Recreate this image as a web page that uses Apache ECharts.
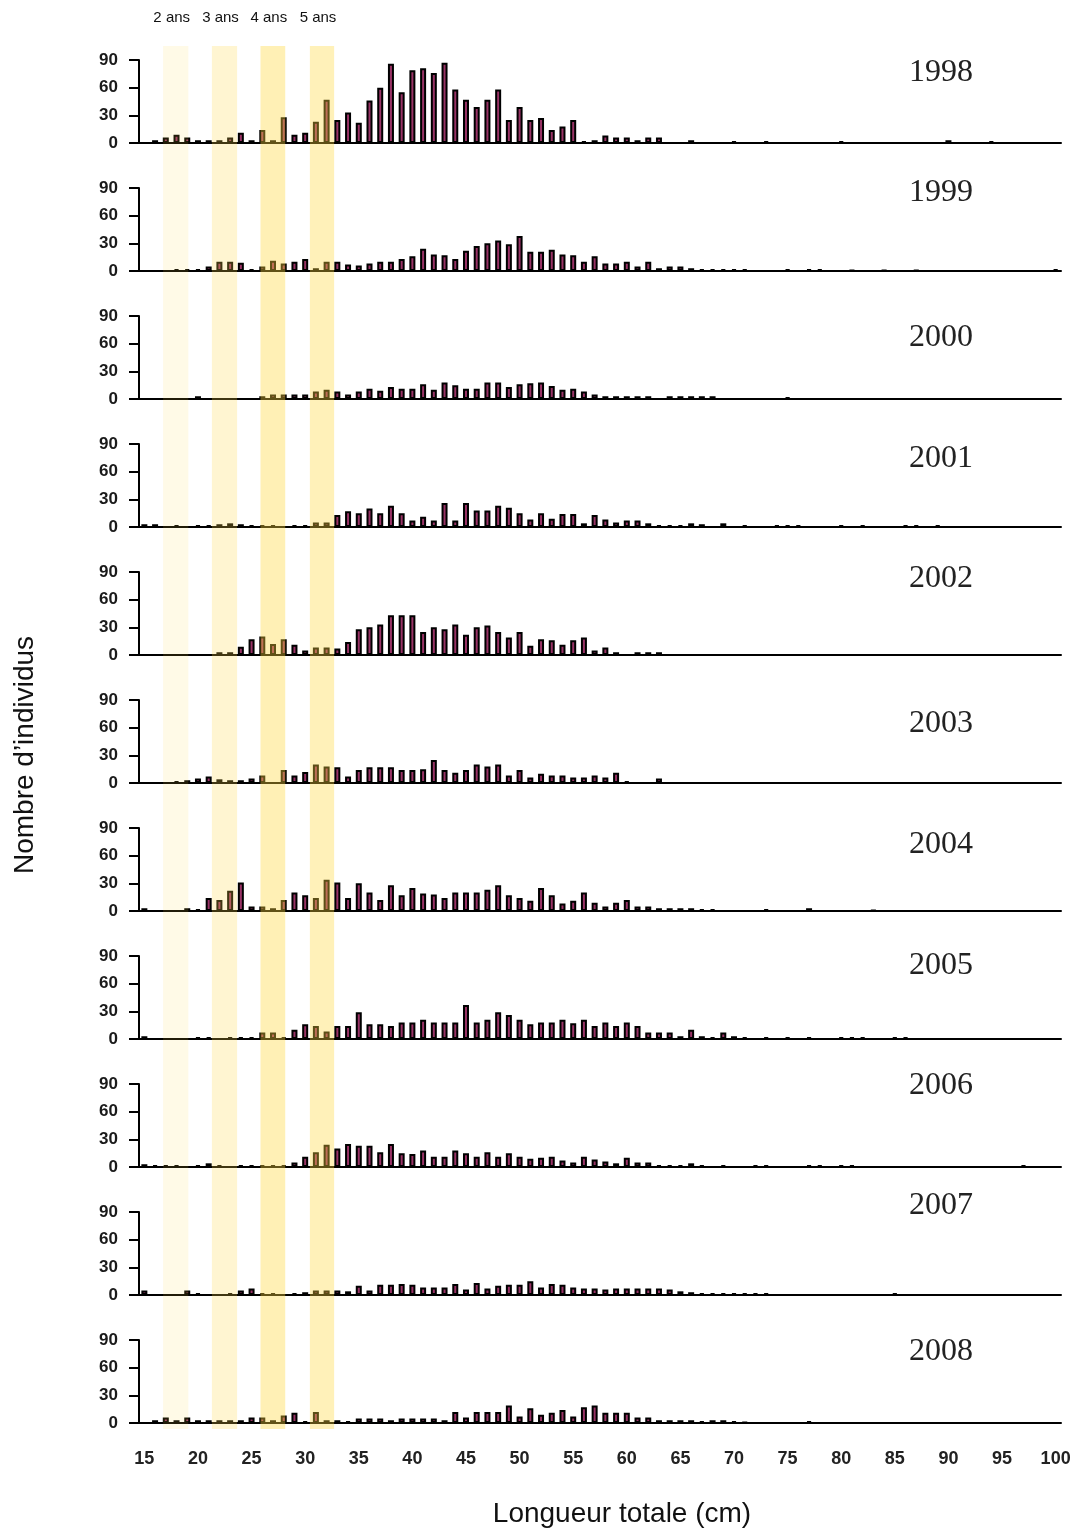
<!DOCTYPE html>
<html>
<head>
<meta charset="utf-8">
<script src="https://cdn.jsdelivr.net/npm/echarts@6/dist/echarts.min.js"></script>
<style>
html, body { margin: 0; padding: 0; background: #fff; }
#chart { width: 1089px; height: 1531px; }
</style>
</head>
<body>
<div id="chart"></div>
<script>
// classes de longueur 15..100 cm
const lengths = [];
for (let l = 15; l <= 100; l++) lengths.push(l);

const years = ['1998', '1999', '2000', '2001', '2002', '2003', '2004', '2005', '2006', '2007', '2008'];
const xTicks = [15, 20, 25, 30, 35, 40, 45, 50, 55, 60, 65, 70, 75, 80, 85, 90, 95, 100];

// bandes d'age (cm)
const ageLabels = ['2 ans', '3 ans', '4 ans', '5 ans'];
const ageFrom = [16.75, 21.3, 25.83, 30.44];
const ageTo = [19.1, 23.65, 28.14, 32.7];

// effectifs 15..66 cm
const n1998 = [0, 3, 6, 9, 6, 3, 3, 3, 6, 11,
  3, 14, 3, 28, 9, 11, 23, 47, 25, 33,
  22, 46, 60, 86, 55, 79, 81, 76, 87, 58,
  47, 39, 47, 58, 25, 39, 25, 27, 14, 18,
  25, 2, 3, 8, 6, 6, 3, 6, 6, 0,
  0, 3];
const n1999 = [0, 0, 0, 2, 2, 2, 5, 10, 10, 9,
  2, 5, 11, 8, 10, 13, 3, 10, 10, 7,
  6, 8, 10, 10, 13, 16, 24, 18, 17, 13,
  22, 27, 30, 33, 29, 38, 21, 21, 23, 18,
  17, 10, 16, 8, 8, 10, 5, 10, 3, 5,
  5, 3];
const n2000 = [0, 0, 0, 0, 0, 3, 0, 0, 0, 0,
  0, 3, 5, 5, 5, 5, 8, 10, 8, 5,
  8, 11, 9, 13, 11, 11, 16, 10, 18, 15,
  11, 11, 18, 18, 13, 16, 17, 18, 14, 10,
  11, 8, 5, 3, 3, 3, 3, 3, 0, 3,
  3, 3];
const n2001 = [3, 3, 0, 2, 0, 2, 2, 3, 4, 3,
  2, 2, 2, 0, 2, 2, 5, 5, 13, 17,
  15, 20, 15, 23, 15, 7, 11, 7, 26, 7,
  26, 18, 18, 23, 21, 15, 8, 15, 9, 14,
  14, 4, 13, 8, 5, 7, 7, 4, 2, 2,
  2, 4];
const n2002 = [0, 0, 0, 0, 0, 0, 0, 3, 3, 9,
  17, 20, 12, 17, 11, 5, 8, 8, 7, 14,
  28, 30, 33, 43, 43, 43, 25, 30, 28, 33,
  22, 30, 32, 25, 19, 25, 10, 17, 16, 11,
  16, 19, 5, 8, 3, 0, 3, 3, 3, 0,
  0, 0];
const n2003 = [0, 0, 0, 2, 3, 5, 7, 4, 3, 3,
  5, 8, 0, 14, 8, 12, 20, 18, 17, 7,
  14, 17, 17, 17, 14, 14, 15, 25, 14, 11,
  14, 20, 18, 20, 8, 14, 6, 10, 8, 8,
  6, 6, 8, 6, 11, 2, 0, 0, 5, 0,
  0, 0];
const n2004 = [3, 0, 0, 0, 3, 2, 14, 12, 22, 31,
  5, 5, 3, 12, 20, 17, 14, 34, 31, 14,
  30, 20, 12, 28, 17, 25, 19, 18, 14, 20,
  20, 20, 23, 28, 17, 14, 11, 25, 17, 8,
  11, 20, 9, 5, 9, 12, 5, 5, 3, 3,
  3, 3];
const n2005 = [3, 0, 0, 0, 0, 2, 2, 0, 2, 2,
  2, 7, 7, 2, 10, 16, 14, 8, 14, 14,
  29, 16, 16, 14, 18, 18, 21, 18, 18, 18,
  37, 18, 21, 29, 26, 21, 16, 18, 18, 21,
  17, 21, 14, 18, 14, 18, 14, 7, 7, 7,
  3, 10];
const n2006 = [3, 2, 2, 2, 0, 2, 4, 2, 0, 2,
  2, 2, 2, 2, 5, 11, 16, 24, 20, 25,
  23, 23, 16, 25, 15, 14, 18, 11, 11, 18,
  15, 11, 16, 11, 15, 11, 9, 10, 11, 7,
  5, 11, 8, 6, 4, 10, 5, 5, 2, 2,
  2, 4];
const n2007 = [5, 0, 0, 0, 5, 2, 0, 0, 2, 5,
  7, 2, 2, 0, 2, 3, 5, 5, 5, 4,
  10, 5, 11, 11, 12, 11, 8, 8, 8, 12,
  6, 13, 7, 10, 11, 11, 15, 8, 12, 11,
  8, 7, 7, 6, 7, 7, 7, 7, 7, 6,
  4, 3];
const n2008 = [0, 3, 6, 3, 6, 3, 3, 3, 3, 3,
  6, 6, 3, 8, 11, 2, 12, 3, 3, 2,
  5, 5, 5, 3, 5, 5, 5, 5, 3, 12,
  6, 12, 12, 12, 19, 7, 16, 9, 11, 14,
  7, 17, 19, 11, 11, 11, 6, 6, 3, 3,
  3, 3];

// grandes tailles (> 66 cm) : [longueur, effectif]
const t1998 = [[70, 2], [73, 2], [80, 2], [90, 3], [94, 2]];
const t1999 = [[67, 2], [68, 2], [69, 2], [70, 2], [71, 2], [75, 2], [77, 2], [78, 2], [81, 1], [84, 1], [87, 1], [100, 2]];
const t2000 = [[67, 3], [68, 3], [75, 2]];
const t2001 = [[67, 3], [69, 4], [71, 2], [74, 2], [75, 2], [76, 2], [80, 2], [82, 2], [86, 2], [87, 2], [89, 2]];
const t2002 = [];
const t2003 = [];
const t2004 = [[67, 2], [68, 2], [73, 2], [77, 3], [83, 1]];
const t2005 = [[67, 3], [68, 2], [69, 7], [70, 3], [71, 2], [73, 2], [75, 2], [77, 2], [80, 2], [81, 2], [82, 2], [85, 2], [86, 2]];
const t2006 = [[67, 2], [69, 2], [72, 2], [73, 2], [77, 2], [78, 2], [80, 2], [81, 2], [97, 2]];
const t2007 = [[67, 2], [68, 2], [69, 2], [70, 2], [71, 2], [72, 2], [73, 2], [85, 2]];
const t2008 = [[67, 2], [68, 3], [69, 3], [70, 2], [71, 1], [77, 2]];

const mains = [n1998, n1999, n2000, n2001, n2002, n2003, n2004, n2005, n2006, n2007, n2008];
const tails = [t1998, t1999, t2000, t2001, t2002, t2003, t2004, t2005, t2006, t2007, t2008];

function countsFor(i) {
  const c = lengths.map((l, k) => (k < mains[i].length ? mains[i][k] : 0));
  tails[i].forEach(([l, v]) => { c[l - 15] = v; });
  return c;
}

// mise en page
const gLeft = 139, gWidth = 922, gTop0 = 60, gStep = 128, gHeight = 83;
const yearTop = [57, 177, 322, 443, 563, 708, 829, 950, 1070, 1190, 1336];

const chart = echarts.init(document.getElementById('chart'));

const grids = [], xAxes = [], yAxes = [], series = [];
years.forEach((yr, i) => {
  const last = i === years.length - 1;
  grids.push({ left: gLeft, width: gWidth, top: gTop0 + gStep * i, height: gHeight });
  xAxes.push({
    type: 'value', gridIndex: i, min: 14.5, max: 100.5, interval: 0.5,
    axisLine: { lineStyle: { color: '#000', width: 2 } },
    axisTick: { show: false },
    splitLine: { show: false },
    axisLabel: {
      show: last, margin: 27, color: '#222', fontSize: 18, fontWeight: 'bold',
      fontFamily: 'Liberation Sans, Arial',
      formatter: v => (xTicks.indexOf(v) >= 0 ? String(v) : '')
    }
  });
  yAxes.push({
    type: 'value', gridIndex: i, min: 0, max: 90, interval: 30,
    axisLine: { show: true, lineStyle: { color: '#000', width: 2 } },
    axisTick: { show: true, length: 10, lineStyle: { color: '#000', width: 2 } },
    splitLine: { show: false },
    axisLabel: { color: '#1a1a1a', fontSize: 17, fontWeight: 'bold', margin: 21, fontFamily: 'Liberation Sans, Arial' }
  });
  const c = countsFor(i);
  series.push({
    type: 'bar', xAxisIndex: i, yAxisIndex: i, barWidth: 6,
    itemStyle: { color: '#993366', borderColor: '#000', borderWidth: 2 },
    data: lengths.map((l, k) => [l, c[k]]).filter(d => d[1] > 0)
  });
});

chart.setOption({
  animation: false,
  grid: grids,
  xAxis: xAxes,
  yAxis: yAxes,
  series: series
});

// bandes d'age et textes
const bandFill = ['rgba(255,215,70,0.13)', 'rgba(255,215,70,0.25)', 'rgba(255,215,60,0.38)', 'rgba(255,215,60,0.36)'];
const topY = gTop0 - 14;
const botY = gTop0 + gStep * (years.length - 1) + gHeight + 6;
const graphics = [];
ageLabels.forEach((lab, k) => {
  const x0 = chart.convertToPixel({ gridIndex: 0 }, [ageFrom[k], 0])[0];
  const x1 = chart.convertToPixel({ gridIndex: 0 }, [ageTo[k], 0])[0];
  graphics.push({
    type: 'rect', z: 100, silent: true,
    shape: { x: x0, y: topY, width: x1 - x0, height: botY - topY },
    style: { fill: bandFill[k] }
  });
  graphics.push({
    type: 'text', z: 100, x: (x0 + x1) / 2 - 4, y: 18,
    style: { text: lab, fill: '#111', font: '15px "Liberation Sans", Arial', textAlign: 'center', textVerticalAlign: 'middle' }
  });
});
years.forEach((yr, i) => {
  graphics.push({
    type: 'text', z: 100, x: 941, y: yearTop[i],
    style: { text: yr, fill: '#222', font: '32px "Liberation Serif", "Times New Roman", serif', textAlign: 'center' }
  });
});
graphics.push({
  type: 'text', z: 100, x: 25, y: 755, rotation: Math.PI / 2,
  style: { text: 'Nombre d’individus', fill: '#111', font: '28px "Liberation Sans", Arial', textAlign: 'center', textVerticalAlign: 'middle' }
});
graphics.push({
  type: 'text', z: 100, x: 622, y: 1514,
  style: { text: 'Longueur totale (cm)', fill: '#111', font: '28px "Liberation Sans", Arial', textAlign: 'center', textVerticalAlign: 'middle' }
});
chart.setOption({ graphic: graphics });
</script>
</body>
</html>
